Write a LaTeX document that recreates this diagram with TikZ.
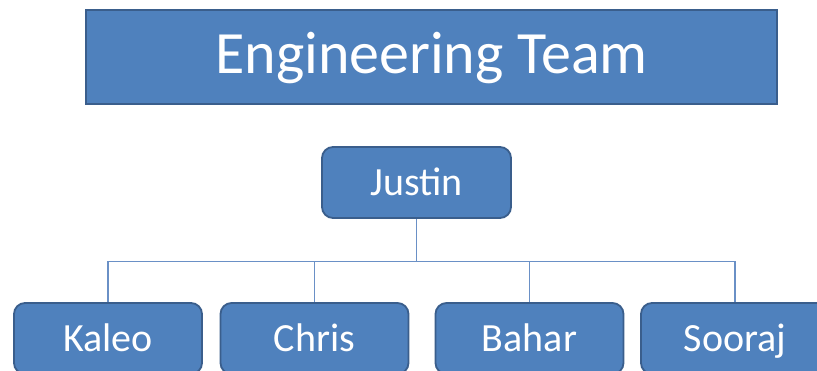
\documentclass[tikz,border=0pt]{standalone}
\usepackage{fontspec}
\setmainfont{Carlito}
\usepackage{tikz}
\usetikzlibrary{positioning}
\definecolor{boxfill}{HTML}{4F81BD}
\definecolor{boxline}{HTML}{3A5E8C}
\definecolor{linkcol}{HTML}{6A90C6}

\begin{document}
\begin{tikzpicture}[
            x=1pt, y=-1pt,
            titlebox/.style={draw=boxline, fill=boxfill, line width=1.8pt, inner sep=0,
              minimum width=691pt, minimum height=94pt, text=white,
              text height=38.6pt, text depth=5pt,
              font=\fontsize{60}{72}\selectfont},
            person/.style={draw=boxline, fill=boxfill, line width=1.8pt, rounded corners=11pt,
              inner sep=0, minimum width=188pt, minimum height=71pt, text=white,
              text height=25.8pt, text depth=0pt,
              font=\fontsize{40}{48}\selectfont},
            link/.style={draw=linkcol, line width=1.2pt},
          ]
          \clip (0,0) rectangle (817,371);
          \fill[white] (0,0) rectangle (817,371);

          % --- title ---
          \node[titlebox] (team) at (431.5,57) {Engineering Team};

          % --- lead ---
          \node[person, minimum width=189pt] (justin) at (416.5,182.5) {Justin};

          % --- team members ---
          \node[person] (kaleo) at (108,338.5) {Kaleo};
          \node[person] (chris) at (314.5,338.5) {Chris};
          \node[person] (bahar) at (529.5,338.5) {Bahar};
          \node[person] (sooraj) at (735,338.5) {Sooraj};

          % --- connectors ---
          \foreach \m in {kaleo,chris,bahar,sooraj}
            \draw[link] (justin.south) -- ++(0,43) -| (\m.north);
        \end{tikzpicture}
\end{document}
